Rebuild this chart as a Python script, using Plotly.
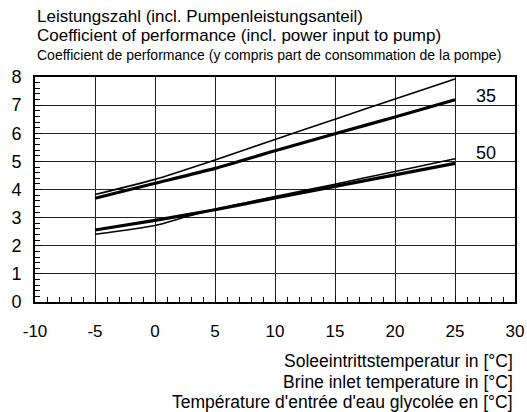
import plotly.graph_objects as go

temps = [-5, 0, 5, 10, 15, 20, 25]
cop35_thin = [3.82, 4.36, 5.05, 5.78, 6.50, 7.22, 7.93]
cop35_thick = [3.69, 4.22, 4.75, 5.38, 5.98, 6.58, 7.19]
temps50_thin = [-5, 0, 2.5, 5, 10, 15, 20, 25]
cop50_thin = [2.41, 2.72, 3.02, 3.30, 3.75, 4.19, 4.64, 5.09]
cop50_thick = [2.56, 2.90, 3.28, 3.70, 4.11, 4.52, 4.93]

x_ticks = [-10, -5, 0, 5, 10, 15, 20, 25, 30]
y_ticks = [0, 1, 2, 3, 4, 5, 6, 7, 8]

title_lines = [
    "Leistungszahl (incl. Pumpenleistungsanteil)",
    "Coefficient of performance (incl. power input to pump)",
    "Coefficient de performance (y compris part de consommation de la pompe)",
]
xlabel_lines = [
    "Soleeintrittstemperatur in [°C]",
    "Brine inlet temperature in [°C]",
    "Température d'entrée d'eau glycolée en [°C]",
]
series_labels = ["35", "50"]

FONT = "Liberation Sans, Arial, sans-serif"

fig = go.Figure()
fig.add_trace(go.Scatter(x=temps, y=cop35_thin, mode="lines",
                         line=dict(color="black", width=1.6, shape="spline", smoothing=0.5)))
fig.add_trace(go.Scatter(x=temps, y=cop35_thick, mode="lines",
                         line=dict(color="black", width=3.2, shape="spline", smoothing=0.5)))
fig.add_trace(go.Scatter(x=temps50_thin, y=cop50_thin, mode="lines",
                         line=dict(color="black", width=1.6, shape="spline", smoothing=0.6)))
fig.add_trace(go.Scatter(x=temps, y=cop50_thick, mode="lines",
                         line=dict(color="black", width=3.2, shape="spline", smoothing=0.5)))

PH = 225
fig.update_layout(
    width=527, height=412,
    margin=dict(l=35, r=12, t=77, b=110, autoexpand=False),
    paper_bgcolor="white", plot_bgcolor="white",
    showlegend=False,
    font=dict(family=FONT, color="black"),
)
fig.update_xaxes(
    range=[-10, 30], tickvals=x_ticks, ticktext=[str(v) for v in x_ticks],
    showgrid=True, gridcolor="#222", gridwidth=1,
    showline=True, linecolor="black", linewidth=2, mirror=True,
    ticks="inside", ticklen=6, tickcolor="black",
    minor=dict(dtick=1, ticks="inside", ticklen=5, tickcolor="black", showgrid=False),
    tickfont=dict(size=17), ticklabelstandoff=13, zeroline=False, automargin=False,
)
fig.update_yaxes(
    range=[0, 8], tickvals=y_ticks, ticktext=[str(v) for v in y_ticks],
    showgrid=True, gridcolor="#222", gridwidth=1,
    showline=True, linecolor="black", linewidth=2, mirror=True,
    ticks="inside", ticklen=6, tickcolor="black",
    minor=dict(dtick=0.2, ticks="inside", ticklen=5, tickcolor="black", showgrid=False),
    tickfont=dict(size=18), ticklabelstandoff=8, zeroline=False, automargin=False,
)

ann = []
title_y = [16, 36, 55]
title_sizes = [17, 17, 14]
title_fonts = [FONT, FONT, "Liberation Sans Narrow, Arial Narrow, " + FONT]
for txt, yy, sz, fam in zip(title_lines, title_y, title_sizes, title_fonts):
    ann.append(dict(text=txt, xref="paper", yref="paper", x=0, xanchor="left",
                    y=1 + (77 - yy) / PH, yanchor="middle", showarrow=False,
                    font=dict(size=sz, family=fam)))
for i, txt in enumerate(xlabel_lines):
    yy = 361 + 20.5 * i
    ann.append(dict(text=txt, xref="paper", yref="paper", x=1, xanchor="right",
                    y=-(yy - 302) / PH, yanchor="middle", showarrow=False,
                    font=dict(size=17.5)))
for txt, yy in zip(series_labels, [96, 153]):
    ann.append(dict(text=txt, xref="x", yref="y", x=27.6, y=(302 - yy) / 28.1,
                    showarrow=False, font=dict(size=18)))
fig.update_layout(annotations=ann)

fig.write_html("out.html", config={"displayModeBar": False},
               post_script="document.body.style.margin='0';")
